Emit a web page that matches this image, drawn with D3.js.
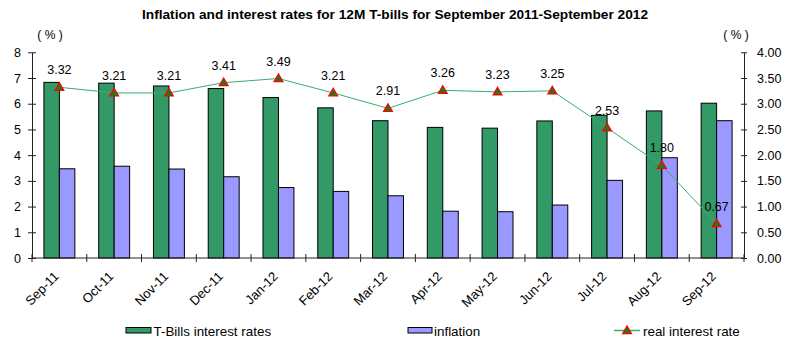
<!DOCTYPE html>
<html>
<head>
<meta charset="utf-8">
<script src="https://cdn.jsdelivr.net/npm/d3@7"></script>
<style>
  html, body { margin: 0; padding: 0; background: #fff; }
  svg text { font-family: "Liberation Sans", Arial, sans-serif; fill: #000; }
</style>
</head>
<body>
<svg id="chart" width="786" height="343"></svg>
<script>
// Monthly data, September 2011 - September 2012
const months = ["Sep-11","Oct-11","Nov-11","Dec-11","Jan-12","Feb-12","Mar-12","Apr-12","May-12","Jun-12","Jul-12","Aug-12","Sep-12"];
const tbillRates = [6.83, 6.80, 6.69, 6.59, 6.24, 5.84, 5.34, 5.08, 5.05, 5.33, 5.55, 5.72, 6.02];
const inflation = [3.47, 3.57, 3.46, 3.16, 2.74, 2.59, 2.42, 1.82, 1.80, 2.06, 3.02, 3.90, 5.34];
const realRate = [3.32, 3.21, 3.21, 3.41, 3.49, 3.21, 2.91, 3.26, 3.23, 3.25, 2.53, 1.80, 0.67];
const leftTicks = [0, 1, 2, 3, 4, 5, 6, 7, 8];
const rightTicks = [0, 0.5, 1, 1.5, 2, 2.5, 3, 3.5, 4];

const svg = d3.select("#chart");
const plot = { left: 32, right: 744, top: 52.3, bottom: 258 };

const x0 = d3.scaleBand().domain(months).range([plot.left, plot.right]).padding(0);
const x1 = d3.scaleBand().domain(["rate", "inf"]).range([0, x0.bandwidth()])
  .paddingInner(0).paddingOuter(0.77);
const yL = d3.scaleLinear().domain([0, 8]).range([plot.bottom, plot.top]);
const yR = d3.scaleLinear().domain([0, 4]).range([plot.bottom, plot.top]);

const green = "#339966", blue = "#9999ff", lineCol = "#3cac6e";

// Title
svg.append("text").attr("x", 395).attr("y", 18.5).attr("text-anchor", "middle")
  .style("font-weight", "bold").style("font-size", "12.5px")
  .attr("textLength", 506).attr("lengthAdjust", "spacingAndGlyphs")
  .text("Inflation and interest rates for 12M T-bills for September 2011-September 2012");

// Unit labels
svg.append("text").attr("x", 50).attr("y", 39).attr("text-anchor", "middle")
  .style("font-size", "12px").text("( % )");
svg.append("text").attr("x", 736).attr("y", 39).attr("text-anchor", "middle")
  .style("font-size", "12px").text("( % )");

// Bars
const groups = svg.append("g").selectAll("g").data(months).join("g")
  .attr("transform", d => `translate(${x0(d)},0)`);
groups.append("rect")
  .attr("x", x1("rate")).attr("width", x1.bandwidth())
  .attr("y", (d, i) => yL(tbillRates[i])).attr("height", (d, i) => yL(0) - yL(tbillRates[i]))
  .attr("fill", green).attr("stroke", "#000").attr("stroke-width", 1);
groups.append("rect")
  .attr("x", x1("inf")).attr("width", x1.bandwidth())
  .attr("y", (d, i) => yL(inflation[i])).attr("height", (d, i) => yL(0) - yL(inflation[i]))
  .attr("fill", blue).attr("stroke", "#000").attr("stroke-width", 1);

// Axes
const axisStyle = g => {
  g.select(".domain").attr("stroke", "#222");
  g.selectAll(".tick line").attr("stroke", "#222");
  g.selectAll(".tick text").style("font-size", "12.5px").attr("fill", "#000");
};
const leftAxis = svg.append("g").attr("transform", `translate(${plot.left},0)`)
  .call(d3.axisLeft(yL).tickValues(leftTicks).tickSize(0).tickPadding(11).tickFormat(d3.format("d")))
  .call(axisStyle);
leftAxis.selectAll(".tick line").attr("x1", -4).attr("x2", 4);

const rightAxis = svg.append("g").attr("transform", `translate(${plot.right},0)`)
  .call(d3.axisRight(yR).tickValues(rightTicks).tickSize(0).tickPadding(13).tickFormat(d3.format(".2f")))
  .call(axisStyle);
rightAxis.selectAll(".tick line").attr("x1", -3).attr("x2", 3);

const bottomAxis = svg.append("g").attr("transform", `translate(0,${plot.bottom})`)
  .call(d3.axisBottom(x0).tickSize(0).tickSizeOuter(0))
  .call(axisStyle);
bottomAxis.select(".domain").attr("d", `M${plot.left},0H${plot.right}`);
// Category separators crossing the axis
bottomAxis.selectAll(".sep").data(d3.range(0, months.length + 1)).join("line")
  .attr("class", "sep")
  .attr("x1", i => plot.left + i * x0.step()).attr("x2", i => plot.left + i * x0.step())
  .attr("y1", -4).attr("y2", 4).attr("stroke", "#222");
bottomAxis.selectAll(".tick text")
  .style("font-size", "13px")
  .attr("text-anchor", "end")
  .attr("transform", "translate(-3,16) rotate(-45)")
  .attr("dy", "0.35em").attr("y", 0).attr("x", 0);

// Real interest rate line (right axis)
const cx = i => x0(months[i]) + x0.bandwidth() / 2;
const line = d3.line().x((d, i) => cx(i)).y(d => yR(d));
svg.append("path").datum(realRate).attr("d", line)
  .attr("fill", "none").attr("stroke", lineCol).attr("stroke-width", 1);

const tri = d3.symbol().type(d3.symbolTriangle).size(34);
svg.append("g").selectAll("path").data(realRate).join("path")
  .attr("d", tri)
  .attr("transform", (d, i) => `translate(${cx(i)},${yR(d) + 0.5})`)
  .attr("fill", "#1e7a1e").attr("stroke", "#ff0000").attr("stroke-width", 1.2);

// Value labels
svg.append("g").selectAll("text").data(realRate).join("text")
  .attr("x", (d, i) => cx(i)).attr("y", d => yR(d) - 13)
  .attr("text-anchor", "middle").style("font-size", "12.5px")
  .text(d => d3.format(".2f")(d));

// Legend
const lg = svg.append("g");
lg.append("rect").attr("x", 126).attr("y", 327.5).attr("width", 25).attr("height", 5.5)
  .attr("fill", green).attr("stroke", "#000");
lg.append("text").attr("x", 153.5).attr("y", 336).style("font-size", "13.4px").text("T-Bills interest rates");
lg.append("rect").attr("x", 408).attr("y", 327.5).attr("width", 24).attr("height", 5.5)
  .attr("fill", blue).attr("stroke", "#000");
lg.append("text").attr("x", 434).attr("y", 336).style("font-size", "13.4px").text("inflation");
lg.append("line").attr("x1", 614).attr("x2", 640).attr("y1", 330.5).attr("y2", 330.5)
  .attr("stroke", lineCol).attr("stroke-width", 1.5);
lg.append("path").attr("d", tri).attr("transform", "translate(627,331)")
  .attr("fill", "#1e7a1e").attr("stroke", "#ff0000").attr("stroke-width", 1.2);
lg.append("text").attr("x", 643).attr("y", 336).style("font-size", "13.4px").text("real interest rate");
</script>
</body>
</html>
